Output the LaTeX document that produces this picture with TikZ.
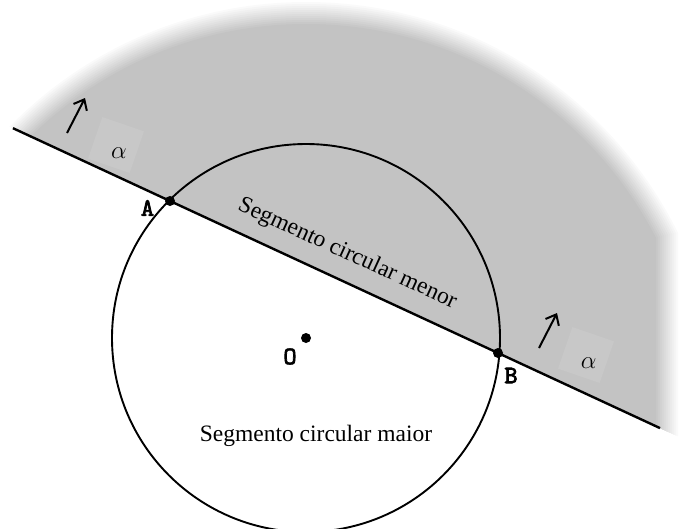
\documentclass[tikz,border=0pt]{standalone}
\usepackage{fontspec}
\setmainfont{Liberation Serif}
\newfontfamily\monob{lmmono10-regular.otf}[FakeBold=3]
\usetikzlibrary{arrows.meta}
\definecolor{boxgray}{gray}{0.785}
\begin{document}
\begin{tikzpicture}[x=1pt,y=-1pt,
  pointlbl/.style={font=\monob\fontsize{25}{25}\selectfont, inner sep=0},
  seglbl/.style={font=\fontsize{23.5}{24}\selectfont, inner sep=0, anchor=base},
  dotmark/.style={circle, fill=black, inner sep=0, minimum size=10pt},
  alphalbl/.style={font=\fontsize{28}{28}\selectfont, inner sep=0},
  sqbox/.style={draw=none, fill=boxgray, minimum size=44pt, inner sep=0, rotate=-19},
  halfarrow/.style={line width=2pt, -{Straight Barb[length=9pt,width=15pt,line width=2pt]}},
  rimline/.style={line width=2.4pt},
  circline/.style={line width=1.9pt}
]
\useasboundingbox (0,0) rectangle (680,528);
\clip (0,0) rectangle (680,528);

% shaded half-plane with soft edge
\begin{scope}
  \clip (-100,75.9) -- (800,493) -- (800,-100) -- (-100,-100) -- cycle;
  \foreach \k in {1,...,12} {
    \pgfmathsetmacro\tone{23.5*\k/12}
    \begin{scope}
      \clip (-100,-100) rectangle ({680-2*\k},600);
      \fill[black!\tone] (306,417) circle[radius={417pt-2pt*\k}];
    \end{scope}
  }
\end{scope}

% light squares behind alpha
\node[sqbox] (sqL) at (116,145) {};
\node[sqbox] (sqR) at (586,355) {};

% circle
\coordinate (O) at (306,338);
\draw[circline] (O) circle[radius=194pt];

% line through A and B
\coordinate (L1) at (13,128.2);
\coordinate (L2) at (660,428.1);
\node[dotmark] (A) at (170,201) {};
\node[dotmark] (B) at (498,353) {};
\node[dotmark] (C) at (306,338) {};
\draw[rimline] (L1) -- (A.center) -- (B.center) -- (L2);

% labels
\node[pointlbl] (Alb) at (147.5,208) {A};
\node[pointlbl] (Blb) at (511,375.5) {B};
\node[pointlbl] (Olb) at (290,356.5) {O};

\node[seglbl, rotate=-24.5] (menor) at (345,259) {Segmento circular menor};
\node[seglbl] (maior) at (316,441.5) {Segmento circular maior};

% arrows and alpha
\coordinate (a1s) at (67,133);
\coordinate (a1e) at (85,98);
\draw[halfarrow] (a1s) -- (a1e);
\coordinate (a2s) at (539,348);
\coordinate (a2e) at (557,313);
\draw[halfarrow] (a2s) -- (a2e);

\node[alphalbl] (alL) at (119,153) {$\alpha$};
\node[alphalbl] (alR) at (588.7,363) {$\alpha$};
\end{tikzpicture}
\end{document}
